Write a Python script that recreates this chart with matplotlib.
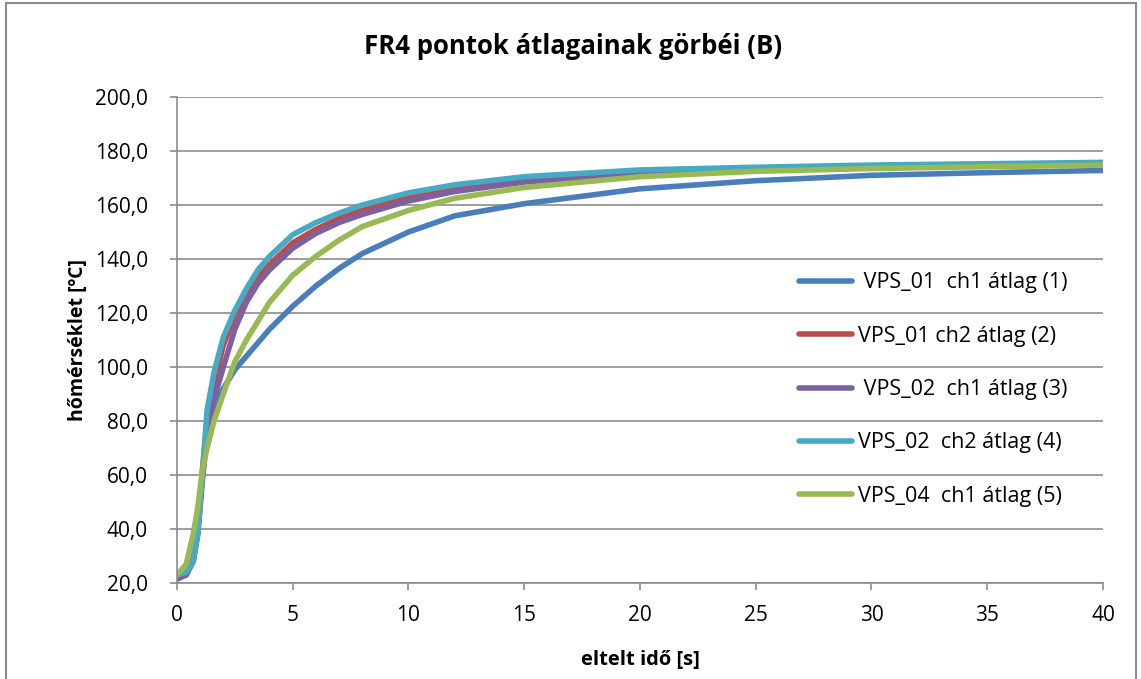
import matplotlib.pyplot as plt
from matplotlib.patches import Rectangle
from matplotlib.ticker import FuncFormatter

plt.rcParams['font.family'] = ['Open Sans', 'DejaVu Sans']

t = [0, 0.4, 0.7, 0.9, 1.1, 1.3, 1.6, 2.0, 2.5, 3.0, 3.5, 4.0, 5.0, 6.0, 7.0, 8.0,
     10, 12, 15, 20, 25, 30, 35, 40]

vps01_ch1 = [22, 23.5, 28, 40, 60, 76, 86, 92, 99, 104, 109, 114, 122.5, 130, 136.5, 142,
             150, 156, 160.5, 166, 169, 171, 172, 172.8]
vps01_ch2 = [21.5, 23, 29, 40, 62, 80, 94, 108, 119, 127, 133, 138, 146, 151, 155, 158,
             163, 166, 169, 172, 173.5, 174.3, 174.8, 175.2]
vps02_ch1 = [21.5, 23, 28, 38, 58, 75, 88, 100, 114, 124, 131, 136, 144, 149.5, 153.5, 156.5,
             161.5, 165, 168.5, 171.8, 173.2, 174, 174.5, 175]
vps02_ch2 = [23, 24, 28, 38, 60, 84, 98, 111, 121, 129, 136, 141, 149, 153.5, 157, 160,
             164.5, 167.5, 170.5, 173, 174, 174.8, 175.3, 175.8]
vps04_ch1 = [23, 27, 38, 48, 62, 70, 80, 90, 102, 110, 117, 124, 134, 141, 147, 152,
             158, 162.5, 166.5, 170.5, 172.5, 173.5, 174.2, 174.8]

labels = [' VPS_01  ch1 átlag (1)', 'VPS_01 ch2 átlag (2)', ' VPS_02  ch1 átlag (3)',
          'VPS_02  ch2 átlag (4)', 'VPS_04  ch1 átlag (5)']
colors = ['#4a7ebb', '#be4b48', '#7d60a0', '#46aac5', '#98b954']
series = [vps01_ch1, vps01_ch2, vps02_ch1, vps02_ch2, vps04_ch1]

fig = plt.figure(figsize=(11.41, 6.79), dpi=100)
ax = fig.add_axes([0.1551, 0.1414, 0.8116, 0.7157])

for y, c, lab in zip(series, colors, labels):
    ax.plot(t, y, color=c, lw=4, label=lab, solid_capstyle='round', solid_joinstyle='round')

ax.set_xlim(0, 40)
ax.set_ylim(20, 200)
ax.set_xticks(range(0, 41, 5))
ax.set_yticks(range(20, 201, 20))
ax.yaxis.set_major_formatter(FuncFormatter(lambda v, p: f'{v:.1f}'.replace('.', ',')))
ax.grid(axis='y', color='#8c8c8c', lw=1.2)
ax.set_axisbelow(True)
for s in ['top', 'right']:
    ax.spines[s].set_visible(False)
for s in ['left', 'bottom']:
    ax.spines[s].set_color('#8c8c8c')
    ax.spines[s].set_linewidth(1.2)
ax.tick_params(colors='#8c8c8c', labelcolor='black', labelsize=15, length=5, width=1.2)
ax.tick_params(axis='y', pad=16)
ax.tick_params(axis='x', pad=11)

fig.text(0.502, 0.931, 'FR4 pontok átlagainak görbéi (B)', fontsize=18.5, fontweight='bold',
         ha='center', va='center')
ax.set_xlabel('eltelt idő [s]', fontsize=14.5, fontweight='bold', labelpad=17)
ax.set_ylabel('hőmérséklet [ºC]', fontsize=14, fontweight='bold', labelpad=5)

ax.legend(loc='center left', bbox_to_anchor=(0.651, 0.398), frameon=False, fontsize=15.5,
          handlelength=2.45, labelspacing=1.5, handletextpad=0.28)

fig.patches.append(Rectangle((0.005, -0.01), 0.991, 1.005, transform=fig.transFigure,
                             fill=False, edgecolor='#8c8c8c', lw=1.5))

fig.savefig('out.png', dpi=100)
